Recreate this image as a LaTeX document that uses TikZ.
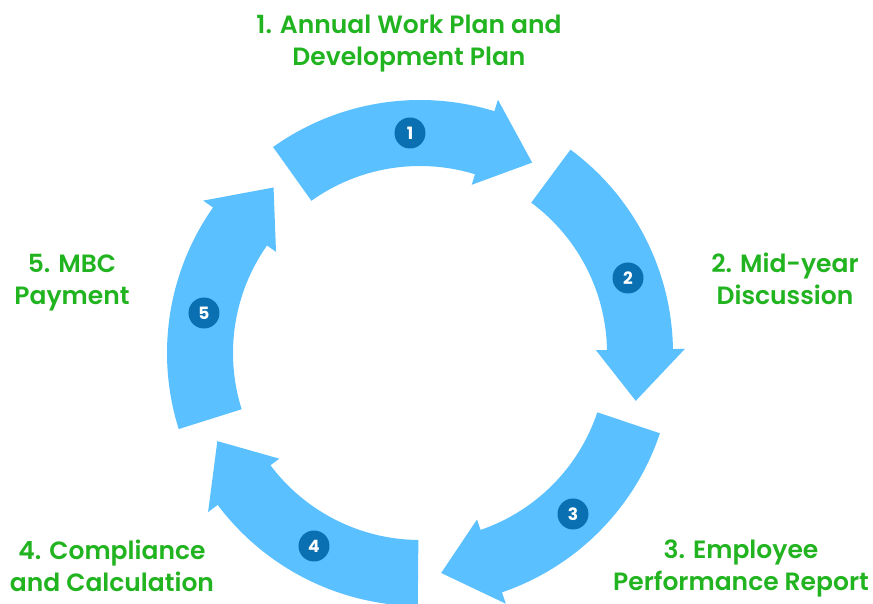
\documentclass[tikz,border=0pt]{standalone}
\usepackage{fontspec}
\setmainfont{Poppins}[UprightFont={* SemiBold}, BoldFont={* Bold}]
\definecolor{ringblue}{HTML}{5AC0FF}
\definecolor{badgeblue}{HTML}{0A70B2}
\definecolor{stepgreen}{HTML}{22B420}

\begin{document}
\begin{tikzpicture}[x=1pt,y=1pt,
  ringarrow/.style={fill=ringblue},
  badge/.style={circle, fill=badgeblue, text=white, minimum size=31pt,
    inner sep=0pt, font=\bfseries\fontsize{17}{17}\selectfont},
  steplabel/.style={text=stepgreen, align=center, inner sep=0pt,
    font=\fontsize{25}{32}\selectfont}]
\useasboundingbox (-420,-251) rectangle (453,353);

% five curved arrows around the ring (inner radius 187, outer 253)
\foreach \t in {125.5,53.5,-18.5,-90.5,-162.5}{
  \pgfmathsetmacro\b{\t-52.6}
  \pgfmathsetmacro\p{\t-66}
  \fill[ringarrow] (\t:253) arc[start angle=\t, end angle=\b, radius=253]
    -- (\b:265) -- (\p:221) -- (\b:176) -- (\b:187)
    arc[start angle=\b, end angle=\t, radius=187] -- cycle;
}

% numbered badges
\node[badge] (b1) at (-10,220) {1};
\node[badge] (b2) at (208,75) {2};
\node[badge] (b3) at (153,-161) {3};
\node[badge] (b4) at (-106,-193) {4};
\node[badge] (b5) at (-216,40) {5};

% step labels (anchored at the baseline of their last line)
\node[steplabel, anchor=base] (l1) at (-11,287) {1. Annual Work Plan and\\Development Plan};
\node[steplabel, anchor=base] (l2) at (365,48) {2. Mid-year\\Discussion};
\node[steplabel, anchor=base] (l3) at (321,-238) {3. Employee\\Performance Report};
\node[steplabel, anchor=base] (l4) at (-308,-239) {4. Compliance\\and Calculation};
\node[steplabel, anchor=base] (l5) at (-348,48) {5. MBC\\Payment};
\end{tikzpicture}
\end{document}
